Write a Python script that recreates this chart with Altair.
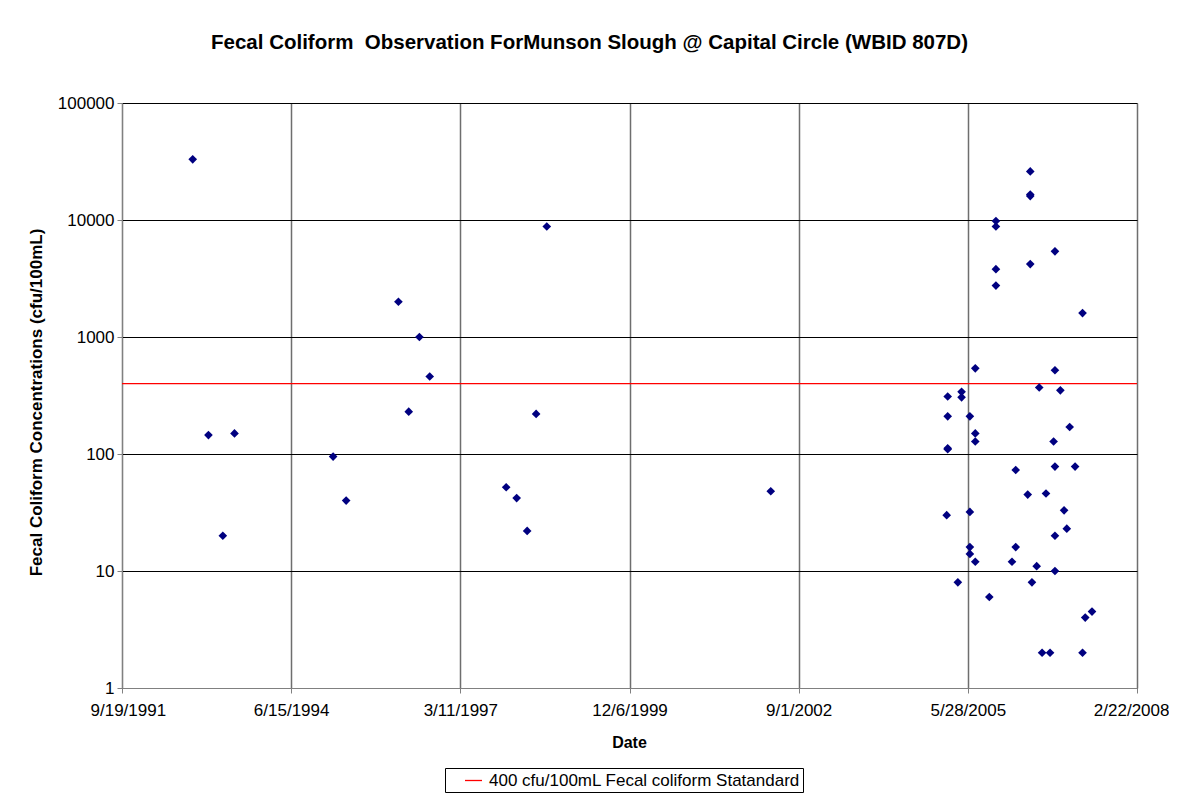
import altair as alt
import pandas as pd

# ---- data ----
dates = [
    "1992-11-10", "1993-02-11", "1993-07-15", "1993-05-07",
    "1995-02-18", "1995-05-06", "1996-03-10", "1996-07-12", "1996-09-11", "1996-05-10",
    "1998-08-04", "1998-06-02", "1997-12-07", "1998-02-07", "1998-04-10",
    "2002-03-20",
    "2006-06-01", "2006-06-01", "2006-06-01", "2005-11-10", "2005-11-10", "2006-10-25",
    "2006-06-01", "2005-11-10", "2005-11-10", "2007-04-06", "2005-07-11", "2006-10-25",
    "2006-07-24", "2006-11-26", "2005-04-21", "2005-01-29", "2005-04-21", "2005-01-29",
    "2005-06-09", "2007-01-20", "2005-07-11", "2006-10-17", "2005-07-11", "2005-01-29",
    "2005-01-29", "2006-03-07", "2006-10-25", "2007-02-21", "2006-05-17", "2006-09-02",
    "2005-01-23", "2005-06-09", "2006-12-18", "2007-01-03", "2006-10-25", "2005-06-09",
    "2006-03-07", "2005-06-09", "2005-07-11", "2006-02-13", "2006-07-09", "2006-10-25",
    "2005-03-30", "2006-06-11", "2005-10-02", "2007-06-01", "2007-04-22", "2006-08-10",
    "2006-09-26", "2007-04-06",
]
values = [
    33000, 145, 150, 20,
    95, 40, 2000, 1000, 460, 230,
    8800, 220, 52, 42, 22,
    48,
    26000, 16000, 16500, 9800, 8800, 5400,
    4200, 3800, 2750, 1600, 540, 520,
    370, 350, 340, 310, 305, 210,
    210, 170, 150, 128, 128, 110,
    112, 73, 78, 78, 45, 46,
    30, 32, 33, 23, 20, 16,
    16, 14, 12, 12, 11, 10,
    8, 8, 6, 4.5, 4, 2,
    2, 2,
]
standard_value = [400]
standard_label = ["400 cfu/100mL Fecal coliform Statandard"]

x_tick_dates = [(1991, 9, 19), (1994, 6, 15), (1997, 3, 11), (1999, 12, 6),
                (2002, 9, 1), (2005, 5, 28), (2008, 2, 22)]
y_ticks = [1, 10, 100, 1000, 10000, 100000]

obs = pd.DataFrame({"Date": pd.to_datetime(dates), "Value": values})
std = pd.DataFrame({"Value": standard_value, "Series": standard_label})

FONT = "Liberation Sans"
x_vals = [alt.DateTime(year=y, month=m, date=d) for (y, m, d) in x_tick_dates]

x_enc = alt.X(
    "Date:T",
    scale=alt.Scale(domain=[x_vals[0], x_vals[-1]], nice=False),
    axis=alt.Axis(
        values=x_vals, format="%-m/%-d/%Y", title="Date",
        grid=True, gridColor="#6e6e6e", gridWidth=1.5,
        domainColor="#808080", tickColor="#808080", tickSize=5,
        labelFlush=True, labelFlushOffset=32, labelOverlap=False, labelBound=False,
        labelPadding=9, labelFontSize=17, labelFont=FONT, labelColor="black",
        titleFont=FONT, titleFontSize=16, titleFontWeight="bold", titleColor="black",
        titleX=507, titleY=54, titleBaseline="middle", titleAlign="center",
    ),
)
y_enc = alt.Y(
    "Value:Q",
    scale=alt.Scale(type="log", domain=[1, 100000], nice=False),
    axis=alt.Axis(
        values=y_ticks, format="d",
        title="Fecal Coliform Concentrations (cfu/100mL)",
        grid=True, gridColor="black", gridWidth=1,
        domainColor="#808080", tickColor="#808080", tickSize=5,
        labelFlush=False, labelOverlap=False,
        labelPadding=3, labelFontSize=17, labelFont=FONT, labelColor="black",
        titleFont=FONT, titleFontSize=17, titleFontWeight="bold", titleColor="black",
        titleX=-86, titleY=299, titleBaseline="middle", titleAlign="center", titleAngle=-90,
    ),
)

points = alt.Chart(obs).mark_point(
    shape="diamond", filled=True, size=75, color="#000080", opacity=1
).encode(x=x_enc, y=y_enc)

rule = alt.Chart(std).mark_rule(strokeWidth=1.3).encode(
    y=alt.Y("Value:Q"),
    color=alt.Color(
        "Series:N",
        scale=alt.Scale(range=["#FF0000"]),
        legend=alt.Legend(
            title=None, orient="none", legendX=323, legendY=665,
            symbolType="stroke", symbolSize=289, symbolStrokeWidth=1.3,
            labelFont=FONT, labelFontSize=17, labelColor="black",
            strokeColor="black", fillColor="white", padding=3,
            symbolOffset=16, labelOffset=6, labelLimit=600,
        ),
    ),
)

chart = alt.layer(rule, points).properties(
    width=1015, height=585,
    title=alt.TitleParams(
        "Fecal Coliform\u00a0 Observation ForMunson Slough @ Capital Circle (WBID 807D)",
        font=FONT, fontSize=20.5, fontWeight="bold", color="black",
        anchor="middle", dx=-40, offset=41,
    ),
    autosize=alt.AutoSizeParams(type="none"),
    padding={"left": 114, "top": 95, "right": 32, "bottom": 109},
).configure_view(stroke="#808080", strokeWidth=1).configure(background="white")

chart.save("out.html", embed_options={"renderer": "svg", "actions": False})
